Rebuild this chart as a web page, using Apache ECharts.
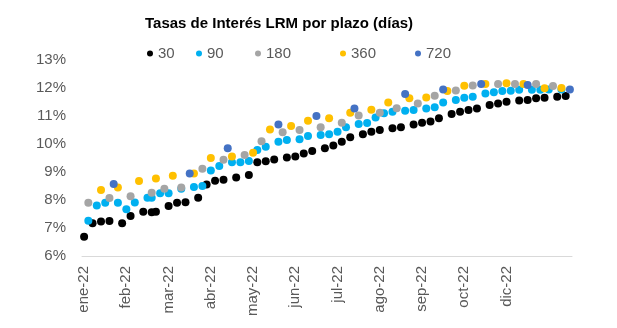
<!DOCTYPE html>
<html>
<head>
<meta charset="utf-8">
<script src="https://cdn.jsdelivr.net/npm/echarts@6/dist/echarts.min.js"></script>
<style>
html,body{margin:0;padding:0;background:#fff;}
#chart{width:617px;height:328px;}
</style>
</head>
<body>
<div id="chart"></div>
<script>
// Category slots (auction dates), labelled every 10 slots
const slotCount = 116;
const xTickLabels = ['ene-22','feb-22','mar-22','abr-22','may-22','jun-22','jul-22','ago-22','sep-22','oct-22','dic-22'];
const seriesNames = ['30','90','180','360','720'];

const idx30 = [0,2,4,6,9,11,14,16,17,20,22,24,27,29,31,33,36,39,41,43,45,48,50,52,54,57,59,61,63,66,68,70,73,75,78,80,82,84,87,89,91,93,96,98,100,103,105,107,109,112,114];
const val30 = [6.69,7.17,7.23,7.25,7.17,7.43,7.58,7.56,7.58,7.79,7.9,7.92,8.08,8.55,8.69,8.72,8.8,8.89,9.35,9.38,9.45,9.52,9.55,9.66,9.75,9.85,9.95,10.08,10.24,10.35,10.44,10.5,10.56,10.6,10.7,10.76,10.8,10.92,11.07,11.15,11.21,11.27,11.39,11.45,11.51,11.55,11.57,11.63,11.65,11.69,11.71];

const idx90 = [1,3,5,8,10,12,15,16,18,20,23,26,28,30,32,35,37,39,41,43,46,48,51,53,56,58,60,62,65,67,69,71,73,76,78,81,83,85,88,90,92,95,97,99,101,103,106,108,110,113];
const val90 = [7.26,7.8,7.9,7.9,7.67,7.91,8.08,8.08,8.24,8.24,8.4,8.46,8.5,9.05,9.21,9.35,9.35,9.39,9.79,9.9,10.08,10.14,10.17,10.29,10.32,10.35,10.44,10.6,10.71,10.75,10.95,11.1,11.15,11.19,11.21,11.27,11.31,11.48,11.57,11.65,11.69,11.8,11.85,11.89,11.9,11.94,11.94,11.94,11.95,11.95];

const idx180 = [1,6,11,16,19,23,28,33,38,42,47,51,56,61,65,70,74,79,83,88,92,98,102,107,111];
const val180 = [7.9,8.07,8.13,8.26,8.4,8.45,9.12,9.44,9.61,10.1,10.42,10.5,10.6,10.76,11.02,11.12,11.28,11.45,11.72,11.91,12.09,12.14,12.14,12.14,12.07];

const idx360 = [4,8,13,17,21,26,30,35,40,44,49,53,58,63,68,72,77,81,86,90,95,100,104,109,113];
const val360 = [8.36,8.45,8.68,8.77,8.87,8.95,9.5,9.55,9.69,10.52,10.64,10.83,10.92,11.12,11.22,11.48,11.63,11.66,11.89,12.08,12.14,12.17,12.14,11.99,12.0];

const idx720 = [7,25,34,46,55,64,76,85,94,105,115];
const val720 = [8.57,8.95,9.85,10.7,11.0,11.27,11.79,11.95,12.14,12.11,11.95];

const yMin = 6, yMax = 13, yStep = 1;

// ---- build ----
const categories = [];
for (let i = 0; i < slotCount; i++) categories.push(String(i));
function pairs(ix, vs){ return ix.map((k,j)=>[k, vs[j]]); }

const colors = ['#000000','#00B0F0','#A5A5A5','#FFC000','#4472C4'];
const allData = [pairs(idx30,val30), pairs(idx90,val90), pairs(idx180,val180), pairs(idx360,val360), pairs(idx720,val720)];
const legendLeft = [142, 191, 250, 335, 410];
const txtColor = '#595959';

const chart = echarts.init(document.getElementById('chart'), null, {renderer:'canvas'});
chart.setOption({
  animation: false,
  backgroundColor: '#ffffff',
  title: {
    text: 'Tasas de Interés LRM por plazo (días)',
    left: 140, top: 11,
    textStyle: {fontFamily: 'Liberation Sans', fontWeight: 'bold', fontSize: 15, color: '#000000'}
  },
  legend: seriesNames.map((n, i) => ({
    data: [n], left: legendLeft[i], top: 41,
    icon: 'circle', itemWidth: 6, itemHeight: 6, itemGap: 4,
    textStyle: {fontFamily: 'Liberation Sans', fontSize: 15, color: txtColor},
    selectedMode: false
  })),
  grid: {left: 82, right: 45, top: 60, bottom: 72},
  xAxis: {
    type: 'category', data: categories, boundaryGap: true,
    axisLine: {lineStyle: {color: '#d9d9d9', width: 1}},
    axisTick: {show: false},
    splitLine: {show: false},
    axisLabel: {
      interval: 9, rotate: 90, margin: 10,
      color: txtColor, fontFamily: 'Liberation Sans', fontSize: 15,
      formatter: (v, i) => (i % 10 === 0 && xTickLabels[i/10]) ? xTickLabels[i/10] : ''
    }
  },
  yAxis: {
    type: 'value', min: yMin, max: yMax, interval: yStep,
    axisLine: {show: false}, axisTick: {show: false},
    splitLine: {show: false},
    axisLabel: {formatter: v => v + '%', margin: 16, color: txtColor, fontFamily: 'Liberation Sans', fontSize: 15}
  },
  series: seriesNames.map((n, i) => ({
    name: n, type: 'scatter', data: allData[i],
    symbol: 'circle', symbolSize: 8,
    itemStyle: {color: colors[i], opacity: 1},
    emphasis: {disabled: true}
  }))
});
</script>
</body>
</html>
